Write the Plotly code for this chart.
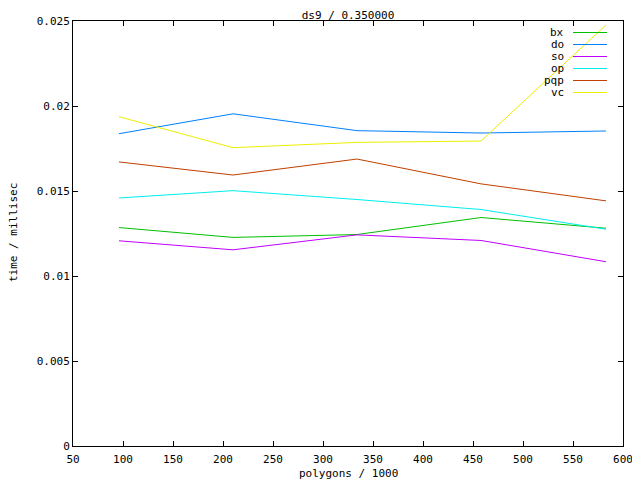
import plotly.graph_objects as go

# ---- data ----
polygons = [96, 210, 334, 458, 583]
series_names = ["bx", "do", "so", "op", "pqp", "vc"]
bx = [0.01285, 0.01227, 0.01244, 0.01344, 0.01281]
do = [0.01837, 0.01954, 0.01855, 0.01841, 0.01853]
so = [0.01207, 0.01154, 0.01242, 0.01209, 0.01084]
op = [0.01459, 0.01502, 0.01450, 0.01391, 0.01275]
pqp = [0.01671, 0.01594, 0.01688, 0.01542, 0.01442]
vc = [0.01937, 0.01755, 0.01786, 0.01794, 0.02477]
colors = ["#00c000", "#0080ff", "#c000ff", "#00eeee", "#c04000", "#eeee00"]

x_ticks = [50, 100, 150, 200, 250, 300, 350, 400, 450, 500, 550, 600]
y_ticks = [0, 0.005, 0.01, 0.015, 0.02, 0.025]
y_tick_text = ["0", "0.005", "0.01", "0.015", "0.02", "0.025"]

title = "ds9 / 0.350000"
x_title = "polygons / 1000"
y_title = "time / millisec"

FONT = "DejaVu Sans Mono"

# page offset (browser body margin) compensation
OFF = 8
FIG_W, FIG_H = 640 - OFF, 480 - OFF
PL, PR, PT, PB = 73, 623, 21, 446          # plot area in page pixels
L = PL - OFF
T = PT - OFF
W = PR - PL
H = PB - PT
R = FIG_W - L - W
B = FIG_H - T - H

def px(xp):
    return (xp - PL) / W
def py(yp):
    return (PB - yp) / H

fig = go.Figure()
for name, ys, c in zip(series_names, [bx, do, so, op, pqp, vc], colors):
    fig.add_trace(go.Scatter(x=polygons, y=ys, mode="lines", name=name,
                             line=dict(color=c, width=1), showlegend=False))

# manual gnuplot-style legend (text right, sample line on right)
for i, (name, c) in enumerate(zip(series_names, colors)):
    yy = py(32.5 + 12 * i)
    fig.add_annotation(x=px(566), y=yy, xref="paper", yref="paper", text=name,
                       showarrow=False, xanchor="right", yanchor="middle",
                       font=dict(family=FONT, size=11, color="black"))
    fig.add_shape(type="line", xref="paper", yref="paper",
                  x0=px(573), x1=px(607), y0=yy, y1=yy,
                  line=dict(color=c, width=1))

# axis titles as annotations for exact placement
fig.add_annotation(x=px(348), y=py(473.5), xref="paper", yref="paper", text=x_title,
                   showarrow=False, xanchor="center", yanchor="middle",
                   font=dict(family=FONT, size=11, color="black"))
fig.add_annotation(x=px(14), y=py(233), xref="paper", yref="paper", text=y_title,
                   showarrow=False, xanchor="center", yanchor="middle", textangle=-90,
                   font=dict(family=FONT, size=11, color="black"))

fig.update_layout(
    width=FIG_W, height=FIG_H,
    margin=dict(l=L, r=R, t=T, b=B, autoexpand=False),
    paper_bgcolor="white", plot_bgcolor="white",
    font=dict(family=FONT, size=11, color="black"),
    title=dict(text=title, x=px(348), xref="paper", xanchor="center",
               y=1 - (15.5 - OFF) / FIG_H, yref="container", yanchor="middle",
               font=dict(family=FONT, size=11, color="black")),
    xaxis=dict(range=[50, 600], tickvals=x_ticks, ticks="inside", ticklen=5,
               showline=True, mirror="ticks", linecolor="black", linewidth=1,
               tickcolor="black", showgrid=False, zeroline=False, automargin=False,
               ticklabelstandoff=3),
    yaxis=dict(range=[0, 0.025], tickvals=y_ticks, ticktext=y_tick_text,
               ticks="inside", ticklen=5,
               showline=True, mirror="ticks", linecolor="black", linewidth=1,
               tickcolor="black", showgrid=False, zeroline=False, automargin=False),
)

fig.write_html("out.html")
